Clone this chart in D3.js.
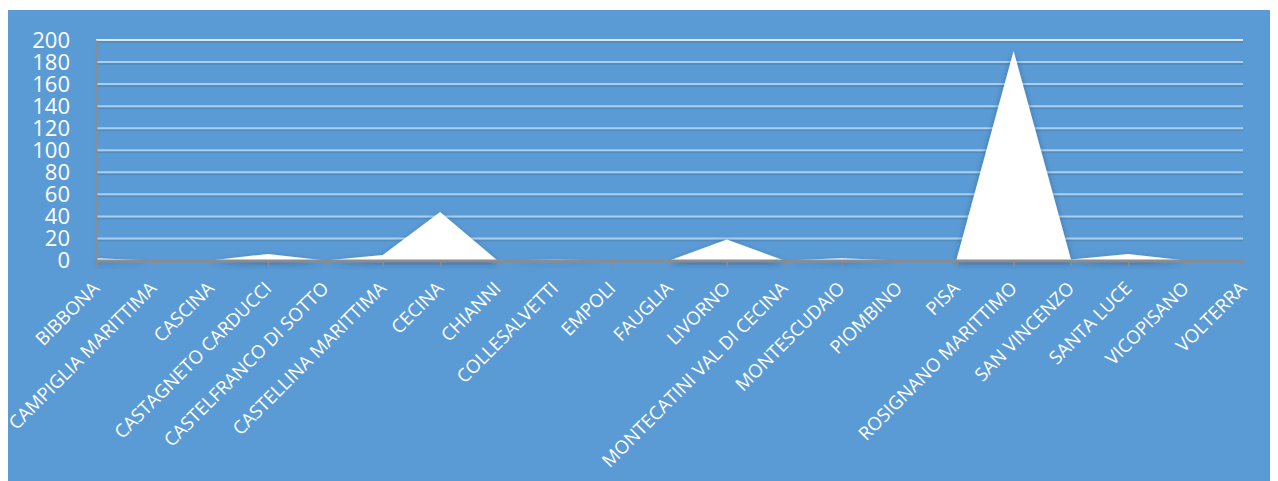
<!DOCTYPE html>
<html>
<head>
<meta charset="utf-8">
<script src="https://cdn.jsdelivr.net/npm/d3@7"></script>
<style>
  body { margin: 0; background: #fff; }
  svg { display: block; font-family: "Open Sans", "Liberation Sans", sans-serif; }
</style>
</head>
<body>
<div id="chart"></div>
<script>
// categorie (comuni)
const comuni = ['BIBBONA', 'CAMPIGLIA MARITTIMA', 'CASCINA', 'CASTAGNETO CARDUCCI',
  'CASTELFRANCO DI SOTTO', 'CASTELLINA MARITTIMA', 'CECINA', 'CHIANNI', 'COLLESALVETTI',
  'EMPOLI', 'FAUGLIA', 'LIVORNO', 'MONTECATINI VAL DI CECINA', 'MONTESCUDAIO', 'PIOMBINO',
  'PISA', 'ROSIGNANO MARITTIMO', 'SAN VINCENZO', 'SANTA LUCE', 'VICOPISANO', 'VOLTERRA'];
// valori
const valori = [2, 0, 0, 6, 0, 5, 44, 0, 1, 0, 0, 19, 0, 2, 0, 0, 190, 1, 6, 0, 0];
// tick asse y
const yTicks = [0, 20, 40, 60, 80, 100, 120, 140, 160, 180, 200];

const width = 1278, height = 481;
const mLeft = 96, mRight = 1243, mTop = 40, mBottom = 260.5;

const svg = d3.select('#chart').append('svg')
  .attr('width', width)
  .attr('height', height);

const defs = svg.append('defs');
const f = defs.append('filter').attr('id', 'ombra')
  .attr('x', '-10%').attr('y', '-10%').attr('width', '120%').attr('height', '130%');
f.append('feDropShadow').attr('dx', 0).attr('dy', 3).attr('stdDeviation', 3)
  .attr('flood-color', '#1c3a66').attr('flood-opacity', 0.55);

// sfondo
svg.append('rect')
  .attr('x', 8).attr('y', 10)
  .attr('width', 1262).attr('height', 471)
  .attr('fill', '#5b9bd5');

const x = d3.scalePoint().domain(comuni).range([mLeft, mRight]);
const y = d3.scaleLinear().domain([0, 200]).range([mBottom, mTop]);

// griglia
const grid = svg.append('g');
yTicks.filter(d => d > 0).forEach(d => {
  grid.append('line')
    .attr('x1', mLeft).attr('x2', mRight)
    .attr('y1', y(d) + 2).attr('y2', y(d) + 2)
    .attr('stroke', '#4a7fb0').attr('stroke-opacity', 0.5).attr('stroke-width', 2);
  grid.append('line')
    .attr('x1', mLeft).attr('x2', mRight)
    .attr('y1', y(d)).attr('y2', y(d))
    .attr('stroke', d === 200 ? '#dbe9f6' : '#a9d1ef').attr('stroke-width', 2);
});

// area
const area = d3.area()
  .x((d, i) => x(comuni[i]))
  .y0(y(0))
  .y1(d => y(d));

svg.append('path')
  .datum(valori)
  .attr('d', area)
  .attr('fill', '#ffffff')
  .attr('filter', 'url(#ombra)');

// asse y
const yAxis = svg.append('g')
  .attr('transform', `translate(${mLeft},0)`)
  .call(d3.axisLeft(y).tickValues(yTicks).tickSize(0).tickPadding(26))
  .attr('font-family', '"Open Sans", sans-serif');
yAxis.select('.domain').attr('stroke', '#8c8c8c').attr('stroke-width', 2);
yAxis.selectAll('text')
  .attr('fill', '#fff')
  .attr('font-size', 22);

// asse x
const xAxis = svg.append('g')
  .attr('transform', `translate(0,${mBottom})`)
  .call(d3.axisBottom(x).tickSize(6).tickSizeOuter(0))
  .attr('font-family', '"Open Sans", sans-serif');
xAxis.select('.domain').attr('stroke', '#8c8c8c').attr('stroke-width', 3);
xAxis.selectAll('.tick line').attr('stroke', '#8c8c8c').attr('stroke-width', 1.5);
xAxis.selectAll('text')
  .attr('fill', '#fff')
  .attr('font-size', 18.5)
  .attr('text-anchor', 'end')
  .attr('transform', 'translate(4,29) rotate(-45)')
  .attr('dy', 0)
  .attr('y', 0)
  .attr('x', 0);
</script>
</body>
</html>
